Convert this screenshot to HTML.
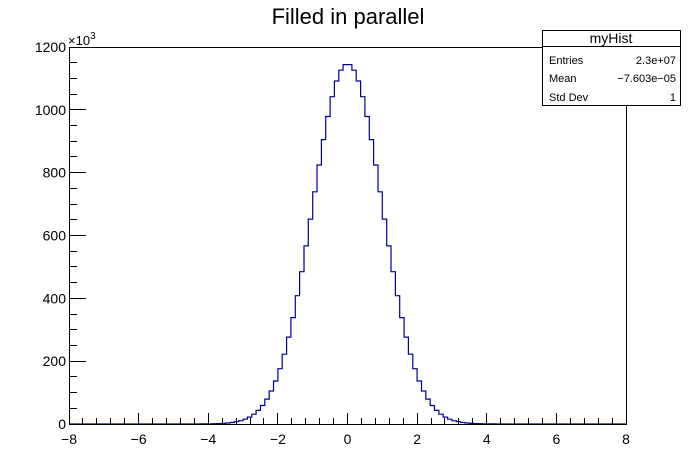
<!DOCTYPE html>
<html><head><style>
body{margin:0;background:#fff;}
svg{display:block;font-family:"Liberation Sans",sans-serif;}
</style></head><body>
<svg id="s" width="696" height="472" xmlns="http://www.w3.org/2000/svg">
<rect width="696" height="472" fill="#fff"/>
<text x="348" y="24" font-size="22" text-anchor="middle">Filled in parallel</text>
<path id="h" fill="none" stroke="#000099" stroke-width="1.2"/>
<g id="ax" stroke="#000" stroke-width="1" fill="none"></g>
<g id="lb" font-size="14" fill="#000"></g>
<text x="68" y="45" font-size="13">×10<tspan dy="-6" font-size="10">3</tspan></text>
<rect x="542.5" y="30.5" width="138" height="75" fill="#fff" stroke="#000"/>
<line x1="542.5" y1="46.5" x2="680.5" y2="46.5" stroke="#000"/>
<text x="611" y="43" font-size="14" text-anchor="middle">myHist</text>
<g font-size="11">
<text x="549" y="64">Entries</text><text x="676" y="64" text-anchor="end">2.3e+07</text>
<text x="549" y="82">Mean</text><text x="676" y="82" text-anchor="end">−7.603e−05</text>
<text x="549" y="101">Std Dev</text><text x="676" y="101" text-anchor="end">1</text>
</g>
</svg>
<script>
const L=69,R=626,T=47,B=424;
const X=v=>L+(v+8)*(R-L)/16, Y=v=>B-v*(B-T)/1200;
function erf(x){const s=Math.sign(x);x=Math.abs(x);const t=1/(1+0.3275911*x);
return s*(1-(((((1.061405429*t-1.453152027)*t)+1.421413741)*t-0.284496736)*t+0.254829592)*t*Math.exp(-x*x));}
const Phi=x=>0.5*(1+erf(x/Math.SQRT2));
let d="M"+X(-8)+","+B;
for(let i=0;i<128;i++){const a=-8+i*0.125,b=a+0.125;
const c=2.3e4*(Phi(b)-Phi(a));const y=Y(c).toFixed(1);
d+=" L"+X(a).toFixed(1)+","+y+" L"+X(b).toFixed(1)+","+y;}
d+=" L"+X(8)+","+B;
document.getElementById('h').setAttribute('d',d);
let ax=`<path d="M${L+.5},${T} V${B+.5} H${R+.5} V${T+.5} H${L+.5}"/>`;
let lb="";
for(let i=0;i<=40;i++){const v=-8+i*0.4;const x=(X(v)|0)+.5;const maj=i%5==0;
ax+=`<line x1="${x}" y1="${B}" x2="${x}" y2="${B-(maj?11:6)}"/>`;
if(maj){const n=Math.round(v);lb+=`<text x="${X(v)}" y="${B+20}" text-anchor="middle">${n<0?'−'+(-n):n}</text>`;}}
for(let i=0;i<=24;i++){const v=i*50;const y=(Y(v)|0)+.5;const maj=i%4==0;
ax+=`<line x1="${L}" y1="${y}" x2="${L+(maj?17:8)}" y2="${y}"/>`;
if(maj)lb+=`<text x="${L-3}" y="${Y(v)+5}" text-anchor="end">${v}</text>`;}
document.getElementById('ax').innerHTML=ax;
document.getElementById('lb').innerHTML=lb;
</script>
</body></html>
